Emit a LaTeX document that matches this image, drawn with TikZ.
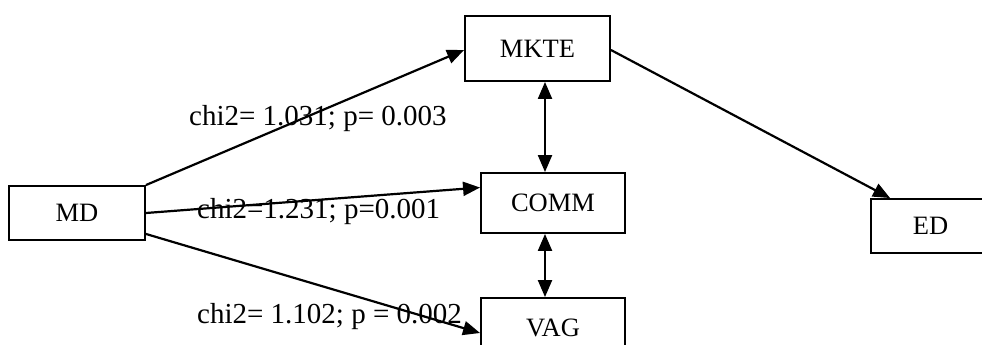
\documentclass[tikz,border=0pt]{standalone}
\usepackage{fontspec}
\setmainfont{Liberation Serif}
\usetikzlibrary{arrows.meta,calc}
\begin{document}
\begin{tikzpicture}[x=1pt,y=-1pt,
  box/.style={draw,line width=1.9pt,fill=white,inner sep=0pt,font=\fontsize{26.5}{30}\selectfont},
  lbl/.style={anchor=base west,inner sep=0pt,font=\fontsize{29}{32}\selectfont},
  conn/.style={line width=2.2pt,-{Triangle[length=17pt,width=14pt]}},
  bi/.style={line width=2.2pt,{Triangle[length=17pt,width=14pt]}-{Triangle[length=17pt,width=14pt]}}]
\useasboundingbox (0,0) rectangle (982,345);
\clip (0,0) rectangle (982,345);
\fill[white] (0,0) rectangle (982,345);
\node[box,minimum width=136pt,minimum height=54pt] (MD) at (77,213) {MD};
\node[box,minimum width=145pt,minimum height=65pt] (MKTE) at (537.5,48.5) {MKTE};
\node[box,minimum width=144pt,minimum height=60pt] (COMM) at (553,203) {COMM};
\node[box,minimum width=144pt,minimum height=60pt] (VAG) at (553,328) {VAG};
\node[box,minimum width=119pt,minimum height=54pt] (ED) at (930.5,226) {ED};
\node[lbl] (L1) at (189,125) {chi2= 1.031; p= 0.003};
\node[lbl] (L2) at (197,218) {chi2=1.231; p=0.001};
\node[lbl] (L3) at (197,323) {chi2= 1.102; p = 0.002};
\draw[conn] (MD.north east) -- ($(MKTE.west)+(0,1.5)$);
\draw[conn] (MD.east) -- ($(COMM.north west)!0.25!(COMM.south west)$);
\draw[conn] ($(MD.east)!0.75!(MD.south east)$) -- ($(VAG.west)+(0,5)$);
\draw[conn] ($(MKTE.east)+(0,1.5)$) -- ($(ED.north west)+(20,0)$);
\coordinate (a1) at ($(COMM.north)+(-8,0)$);
\draw[bi] (a1 |- MKTE.south) -- (a1);
\coordinate (a2) at ($(VAG.north)+(-8,0)$);
\draw[bi] (a2 |- COMM.south) -- (a2);
\end{tikzpicture}
\end{document}
